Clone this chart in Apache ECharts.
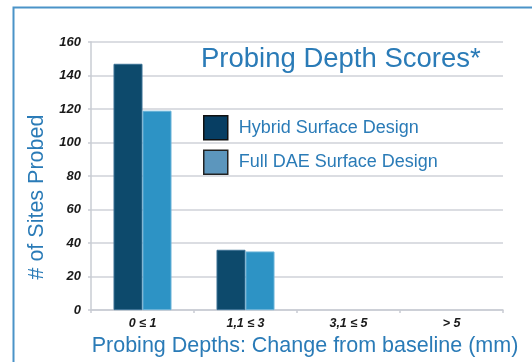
<!DOCTYPE html>
<html>
<head>
<meta charset="utf-8">
<script src="https://cdn.jsdelivr.net/npm/echarts@6/dist/echarts.min.js"></script>
<style>
  html, body { margin: 0; padding: 0; background: #ffffff; }
  #chart { width: 532px; height: 362px; }
</style>
</head>
<body>
<div id="chart"></div>
<script>
// Probing depth change categories (mm) and site counts per surface design
const categories = ['0 ≤ 1', '1,1 ≤ 3', '3,1 ≤ 5', '> 5'];
const hybridSites = [147, 36, 0, 0];
const fullDaeSites = [119, 35, 0, 0];
const yTicks = [0, 20, 40, 60, 80, 100, 120, 140, 160];

const FONT = '"Liberation Sans", Arial, Helvetica, sans-serif';
const BLUE_TEXT = '#2a7bb7';
const DARK = '#0d4a6c';
const LIGHT = '#2d93c5';

// Zero-count bars get no outline so they stay invisible on the baseline
function barItems(values, borderColor) {
  return values.map(function (v) {
    return { value: v, itemStyle: { borderColor: borderColor, borderWidth: v > 0 ? 1 : 0 } };
  });
}

const chart = echarts.init(document.getElementById('chart'), null, { renderer: 'canvas' });

chart.setOption({
  backgroundColor: '#ffffff',
  animation: false,
  title: {
    text: 'Probing Depth Scores*',
    left: 201,
    top: 45,
    padding: 0,
    textStyle: { fontFamily: FONT, fontSize: 27.5, fontWeight: 'normal', color: BLUE_TEXT }
  },
  legend: {
    orient: 'vertical',
    left: 203,
    top: 115,
    padding: 0,
    itemWidth: 24,
    itemHeight: 24,
    itemGap: 9,
    icon: 'rect',
    textStyle: { fontFamily: FONT, fontSize: 18, color: BLUE_TEXT, padding: [0, 0, 0, 6] },
    data: [
      { name: 'Hybrid Surface Design', itemStyle: { color: '#073e63', borderColor: '#111111', borderWidth: 1.5 } },
      { name: 'Full DAE Surface Design', itemStyle: { color: '#5c96bd', borderColor: '#222222', borderWidth: 1.5 } }
    ]
  },
  grid: { left: 91, right: 29, top: 42, bottom: 49 },
  xAxis: {
    type: 'category',
    data: categories,
    name: 'Probing Depths: Change from baseline (mm)',
    nameLocation: 'middle',
    nameGap: 24,
    nameTextStyle: { fontFamily: FONT, fontSize: 21.5, color: BLUE_TEXT, padding: [0, 0, 0, 16] },
    axisLine: { show: true, lineStyle: { color: '#c9ccd3', width: 1.5 } },
    axisTick: { show: true, length: 3, lineStyle: { color: '#c9ccd3', width: 1.5 } },
    axisLabel: {
      margin: 7,
      fontFamily: FONT, fontSize: 12.5, fontWeight: 'bold', fontStyle: 'italic', color: '#1a1a1a'
    }
  },
  yAxis: {
    type: 'value',
    min: 0,
    max: 160,
    interval: 20,
    name: '# of Sites Probed',
    nameLocation: 'middle',
    nameGap: 42,
    nameTextStyle: { fontFamily: FONT, fontSize: 21.5, color: BLUE_TEXT, padding: [0, 42, 0, 0] },
    axisLine: { show: true, lineStyle: { color: '#c9ccd3', width: 1.5 } },
    axisTick: { show: true, length: 3, lineStyle: { color: '#c9ccd3', width: 1.5 } },
    splitLine: { show: true, lineStyle: { color: '#cfd2d9', width: 1.5 } },
    axisLabel: {
      margin: 10,
      fontFamily: FONT, fontSize: 13, fontWeight: 'bold', fontStyle: 'italic', color: '#1a1a1a',
      formatter: function (v) { return yTicks.indexOf(v) >= 0 ? String(v) : ''; }
    }
  },
  series: [
    {
      name: 'Hybrid Surface Design',
      type: 'bar',
      data: barItems(hybridSites, '#3b7194'),
      barWidth: 29,
      barGap: '0%',
      itemStyle: { color: DARK }
    },
    {
      name: 'Full DAE Surface Design',
      type: 'bar',
      data: barItems(fullDaeSites, '#68b2d8'),
      barWidth: 29,
      barGap: '0%',
      itemStyle: { color: LIGHT }
    }
  ],
  graphic: [
    {
      type: 'rect',
      left: 11,
      top: 5,
      shape: { width: 600, height: 400 },
      style: { fill: 'none', stroke: '#4b93c8', lineWidth: 2 },
      silent: true,
      z: 100
    }
  ]
});
</script>
</body>
</html>
